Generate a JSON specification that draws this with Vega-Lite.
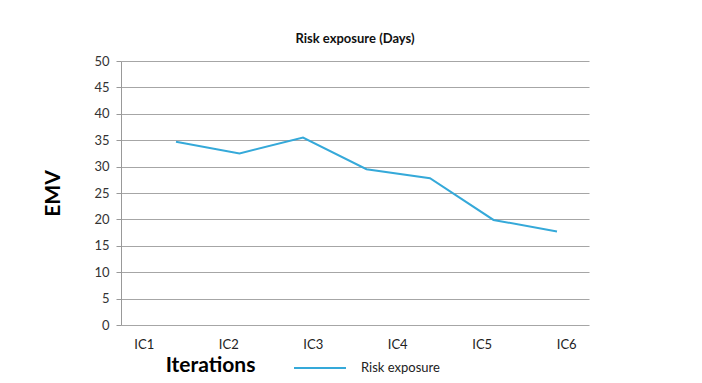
{
  "$schema": "https://vega.github.io/schema/vega-lite/v6.json",
  "width": 468,
  "height": 264,
  "autosize": {"type": "none"},
  "padding": {"left": 121, "top": 61, "right": 113, "bottom": 58},
  "background": "white",
  "title": {"text": "Risk exposure (Days)", "fontSize": 13, "font": "Lato", "fontWeight": "bold", "color": "#111", "anchor": "middle", "offset": 9},
  "config": {"view": {"stroke": null}},
  "datasets": {
    "series": [
      {"step": 1, "emv": 34.7},
      {"step": 2, "emv": 32.5},
      {"step": 3, "emv": 35.5},
      {"step": 4, "emv": 29.5},
      {"step": 5, "emv": 27.8},
      {"step": 6, "emv": 19.9},
      {"step": 7, "emv": 17.7}
    ],
    "cats": [
      {"ic": "IC1"}, {"ic": "IC2"}, {"ic": "IC3"}, {"ic": "IC4"}, {"ic": "IC5"}, {"ic": "IC6"}
    ]
  },
  "layer": [
    {
      "data": {"name": "series"},
      "mark": {"type": "line", "strokeWidth": 2},
      "encoding": {
        "x": {"field": "step", "type": "quantitative", "scale": {"domain": [0.134, 7.504], "nice": false, "zero": false}, "axis": null},
        "y": {
          "field": "emv", "type": "quantitative",
          "scale": {"domain": [0, 50], "nice": false},
          "axis": {
            "title": "EMV", "titleFont": "Lato", "titleFontSize": 21, "titleFontWeight": "bold", "titleColor": "#000",
            "titleX": -58, "titleAnchor": "middle",
            "values": [0, 5, 10, 15, 20, 25, 30, 35, 40, 45, 50],
            "labelFont": "Lato", "labelFontSize": 13, "labelColor": "#333", "labelPadding": 7,
            "tickSize": 5, "tickColor": "#999", "domainColor": "#999",
            "grid": true, "gridColor": "#a6a6a6", "gridWidth": 1.2
          }
        },
        "color": {
          "datum": "Risk exposure", "type": "nominal",
          "scale": {"range": ["#35a9d9"]},
          "legend": {
            "title": null, "orient": "none", "legendX": 172, "legendY": 280, "padding": 0,
            "symbolType": "stroke", "symbolSize": 2700, "symbolStrokeWidth": 2,
            "labelFont": "Lato", "labelFontSize": 13, "labelColor": "#222", "labelOffset": 14
          }
        }
      }
    },
    {
      "data": {"name": "cats"},
      "mark": {"type": "point", "opacity": 0},
      "encoding": {
        "x": {
          "field": "ic", "type": "nominal",
          "scale": {"type": "point", "padding": 0.27},
          "axis": {
            "title": "Iterations", "titleFont": "Lato", "titleFontSize": 21, "titleFontWeight": "bold", "titleColor": "#000",
            "titleX": 89, "titleY": 40, "titleAnchor": "middle", "titleBaseline": "middle",
            "labelAngle": 0, "labelFont": "Lato", "labelFontSize": 13, "labelColor": "#222", "labelPadding": 13,
            "ticks": false, "domain": false, "grid": false
          }
        }
      }
    }
  ],
  "resolve": {"scale": {"x": "independent"}, "axis": {"x": "independent"}}
}
